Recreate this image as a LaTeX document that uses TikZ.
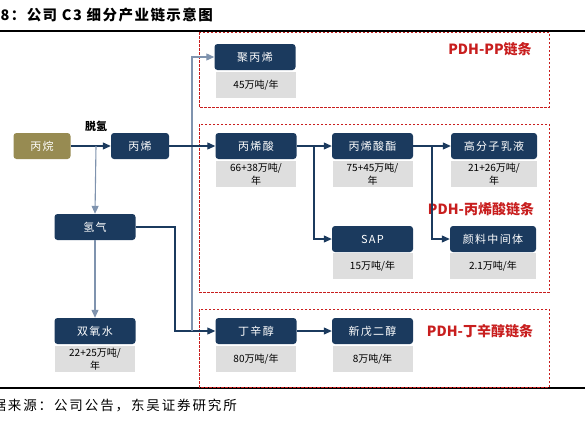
\documentclass[tikz,border=0pt]{standalone}
\usepackage{fontspec}
\setmainfont{Noto Sans CJK SC}
\newfontfamily\boxfont[LetterSpace=12]{Noto Sans CJK SC}
\newfontfamily\notefont[LetterSpace=14]{Noto Sans CJK SC}
\newfontfamily\titlefont[LetterSpace=10]{Noto Sans CJK SC}
\usetikzlibrary{shapes,arrows.meta,positioning,calc}
\definecolor{navy}{HTML}{1B3A5E}
\definecolor{olivebox}{HTML}{978B52}
\definecolor{chainred}{HTML}{C81E1E}
\definecolor{labelgray}{HTML}{DEDEDE}
\definecolor{linkgray}{HTML}{7F93AE}

\tikzset{
  prod/.style={rectangle, rounded corners=3pt, fill=navy, text=white,
    minimum width=81pt, minimum height=26pt, inner sep=0pt,
    font=\boxfont\fontsize{11}{13}\selectfont},
  capbox/.style={rectangle, fill=labelgray, minimum width=80pt,
    minimum height=26pt, inner sep=0pt, align=center,
    font=\fontsize{10}{12.5}\selectfont},
  link/.style={draw=navy, line width=1.1pt, -{Triangle[length=8pt,width=7pt]}},
  chain/.style={draw=chainred, line width=0.9pt, dash pattern=on 2.5pt off 1.5pt},
  chainname/.style={text=chainred, font=\bfseries\fontsize{14}{16}\selectfont}
}

\begin{document}
\begin{tikzpicture}[x=1pt,y=-1pt]
    \useasboundingbox (0,0) rectangle (585,421);

    % title and rules
    \node[anchor=west, font=\titlefont\bfseries\fontsize{14.5}{16}\selectfont] (title) at (-3,15) {8：公司 C3 细分产业链示意图};
    \draw[line width=1.8pt] (0,31) -- (585,31);
    \draw[line width=1.5pt] (0,388) -- (585,388);
    \node[anchor=west, font=\notefont\fontsize{13.5}{15}\selectfont] (source) at (-11,405) {据来源：公司公告，东吴证券研究所};

    % chain frames
    \draw[chain] (199,32) rectangle (549,107);
    \draw[chain] (199,124) rectangle (549,292);
    \draw[chain] (199,309) rectangle (549,387);
    \node[chainname] (pp) at (490,49) {PDH-PP链条};
    \node[chainname] (aa) at (481,209) {PDH-丙烯酸链条};
    \node[chainname] (oxo) at (480,331) {PDH-丁辛醇链条};

    % products
    \node[prod, fill=olivebox, minimum width=57pt] (bw) at (42,146) {丙烷};
    \node[prod, minimum width=58pt] (bx) at (140,146) {丙烯};
    \node[prod] (qq) at (95,227) {氢气};
    \node[prod] (syh) at (95,331) {双氧水};
    \node[capbox] (syhcap) at (95,359) {22+25万吨/\\年};
    \node[prod] (jbx) at (255,57) {聚丙烯};
    \node[capbox] (jbxcap) at (256,85) {45万吨/年};
    \node[prod] (bxs) at (256,146) {丙烯酸};
    \node[capbox] (bxscap) at (256,174) {66+38万吨/\\年};
    \node[prod] (bxsz) at (372.5,146) {丙烯酸酯};
    \node[capbox] (bxszcap) at (372.5,174) {75+45万吨/\\年};
    \node[prod] (sap) at (372.5,239) {SAP};
    \node[capbox] (sapcap) at (372.5,266) {15万吨/年};
    \node[prod, minimum width=86pt] (gfz) at (494,146) {高分子乳液};
    \node[capbox, minimum width=86pt] (gfzcap) at (494,174) {21+26万吨/\\年};
    \node[prod, minimum width=86pt] (ylz) at (493,239) {颜料中间体};
    \node[capbox, minimum width=86pt] (ylzcap) at (493,266) {2.1万吨/年};
    \node[prod] (dxc) at (256,331) {丁辛醇};
    \node[capbox] (dxccap) at (256,359) {80万吨/年};
    \node[prod] (xwe) at (372.5,331) {新戊二醇};
    \node[capbox] (xwecap) at (372.5,359) {8万吨/年};
    \node[font=\bfseries\fontsize{11}{13}\selectfont] (tq) at (96,126) {脱氢};

    % links
    \coordinate (j1) at (96,146);
    \coordinate (k1) at (175,227);
    \coordinate (j2) at (192,331);
    \coordinate (j4) at (314,146);
    \coordinate (j5) at (432,146);
    \draw[link] (bw) -- (bx);
    \draw[link, draw=linkgray] (j1) -- (qq.north);
    \draw[link, draw=linkgray] (qq) -- (syh);
    \draw[link] (qq.east) -- (k1) |- (dxc.west);
    \draw[link, draw=linkgray] (j2) |- (jbx.west);
    \draw[link] (bx) -- (bxs);
    \draw[link] (bxs) -- (bxsz);
    \draw[link] (j4) |- (sap.west);
    \draw[link] (bxsz) -- (gfz);
    \draw[link] (j5) |- (ylz.west);
    \draw[link] (dxc) -- (xwe);
\end{tikzpicture}
\end{document}
